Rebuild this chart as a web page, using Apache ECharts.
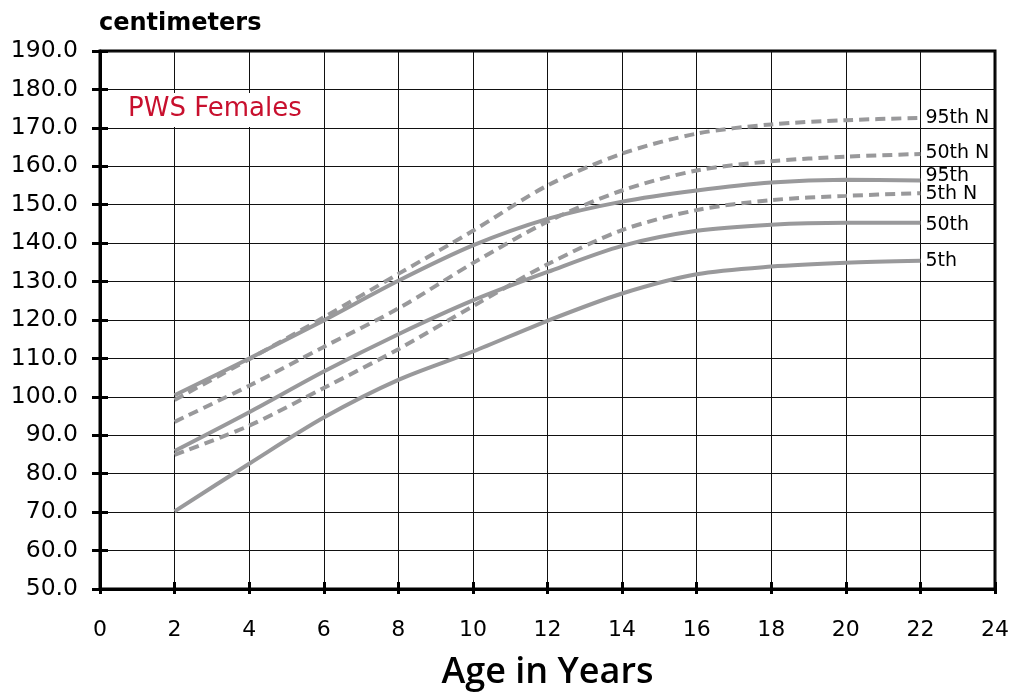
<!DOCTYPE html>
<html>
<head>
<meta charset="utf-8">
<script src="https://cdn.jsdelivr.net/npm/echarts@6/dist/echarts.min.js"></script>
<style>
html,body{margin:0;padding:0;background:#fff;}
#chart{width:1013px;height:696px;}
</style>
</head>
<body>
<div id="chart"></div>
<script>
const ages = [2, 4, 6, 8, 10, 12, 14, 16, 18, 20, 22];
const p95N = [99.2, 109.8, 120.7, 132.0, 143.2, 155.0, 163.3, 168.5, 170.9, 172.0, 172.6];
const p50N = [93.5, 102.9, 113.0, 123.0, 134.8, 145.6, 153.7, 158.9, 161.3, 162.5, 163.2];
const p95  = [100.4, 110.0, 119.9, 130.2, 139.4, 146.3, 150.8, 153.7, 155.8, 156.5, 156.3];
const p5N  = [84.9, 92.5, 102.3, 112.4, 123.6, 134.5, 143.4, 148.6, 151.2, 152.3, 153.0];
const p50  = [85.9, 96.0, 106.6, 116.3, 125.1, 132.5, 139.3, 143.2, 144.8, 145.3, 145.3];
const p5   = [70.2, 82.6, 94.6, 104.4, 111.8, 119.8, 126.9, 131.9, 133.9, 134.9, 135.4];
const xTicks = [0, 2, 4, 6, 8, 10, 12, 14, 16, 18, 20, 22, 24];
const yTicks = [50, 60, 70, 80, 90, 100, 110, 120, 130, 140, 150, 160, 170, 180, 190];

const FONT = '"DejaVu Sans", sans-serif';
const GRAY = '#99999b';

function mk(name, vals, dashed, dy) {
  return {
    name: name,
    type: 'line',
    data: ages.map((a, i) => [a, vals[i]]),
    smooth: 0.3,
    symbol: 'none',
    lineStyle: {color: GRAY, width: 4, type: dashed ? [10, 6] : 'solid', cap: 'butt'},
    endLabel: {show: true, formatter: name, color: '#000', fontFamily: FONT, fontSize: 19, distance: 5, offset: [0, dy]},
    z: 3
  };
}

const chart = echarts.init(document.getElementById('chart'), null, {renderer: 'canvas'});
chart.setOption({
  animation: false,
  backgroundColor: '#fff',
  title: [
    {text: 'centimeters', left: 99, top: 12, padding: 0, textStyle: {fontFamily: FONT, fontSize: 24, fontWeight: 'bold', color: '#000'}},
    {text: 'PWS Females', left: 124, top: 93, padding: [3, 4, 5, 4], backgroundColor: '#fff', z: 10,
     textStyle: {fontFamily: FONT, fontSize: 26, fontWeight: 'normal', color: '#c8102e'}}
  ],
  grid: {left: 100, right: 18, top: 51, bottom: 107, show: true, borderColor: '#000', borderWidth: 3, containLabel: false},
  xAxis: [{
    type: 'value', min: 0, max: 24, interval: 2,
    name: 'Age in Years', nameLocation: 'middle', nameGap: 66,
    nameTextStyle: {fontFamily: '"Open Sans", sans-serif', fontWeight: 600, fontSize: 36, color: '#000'},
    axisLine: {show: true, onZero: false, lineStyle: {color: '#000', width: 3}},
    axisTick: {show: true, inside: true, length: 7, lineStyle: {color: '#000', width: 3}},
    axisLabel: {margin: 30, fontFamily: FONT, fontSize: 22, color: '#000', customValues: xTicks},
    splitLine: {show: true, lineStyle: {color: '#111', width: 1}}
  }, {
    type: 'value', min: 0, max: 24, interval: 2, position: 'bottom',
    axisLine: {show: false}, axisLabel: {show: false}, splitLine: {show: false},
    axisTick: {show: true, inside: false, length: 5, lineStyle: {color: '#000', width: 3}}
  }],
  yAxis: [{
    type: 'value', min: 50, max: 190, interval: 10,
    axisLine: {show: true, onZero: false, lineStyle: {color: '#000', width: 3}},
    axisTick: {show: true, inside: false, length: 8, lineStyle: {color: '#000', width: 3}},
    axisLabel: {margin: 22, fontFamily: FONT, fontSize: 23.5, color: '#000', formatter: v => v.toFixed(1), customValues: yTicks},
    splitLine: {show: true, lineStyle: {color: '#111', width: 1}}
  }, {
    type: 'value', min: 50, max: 190, interval: 10, position: 'left',
    axisLine: {show: false}, axisLabel: {show: false}, splitLine: {show: false},
    axisTick: {show: true, inside: true, length: 8, lineStyle: {color: '#000', width: 3}}
  }],
  series: [
    mk('95th N', p95N, true, 0),
    mk('50th N', p50N, true, -1),
    mk('95th', p95, false, -4),
    mk('5th N', p5N, true, 1),
    mk('50th', p50, false, 2),
    mk('5th', p5, false, 0)
  ]
});
</script>
</body>
</html>
